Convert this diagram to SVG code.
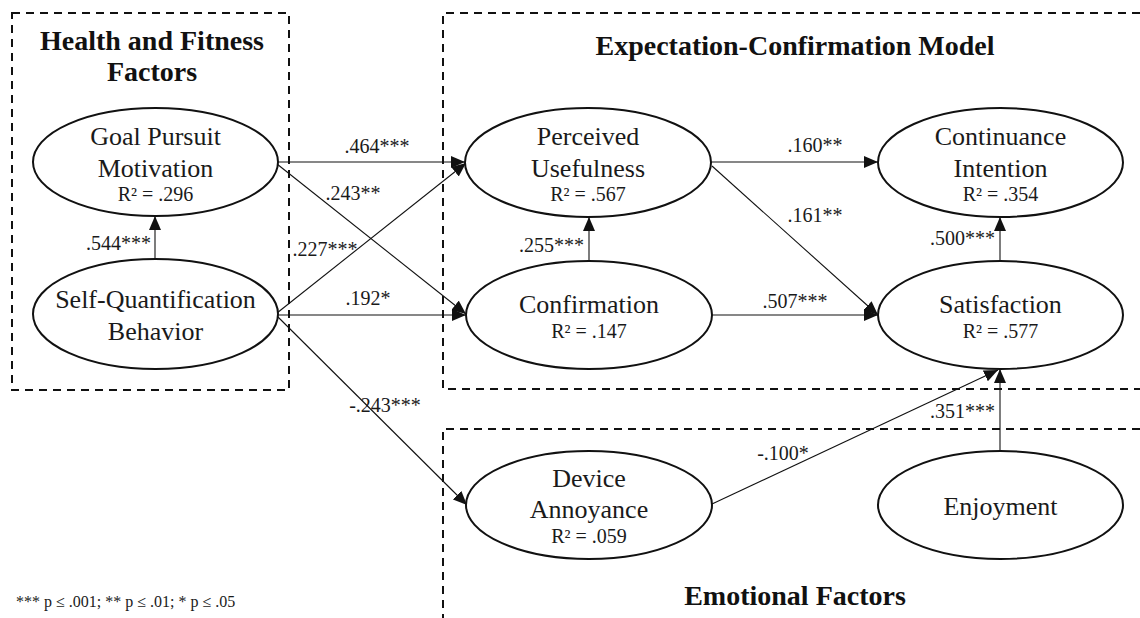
<svg xmlns="http://www.w3.org/2000/svg" width="1140" height="618" viewBox="0 0 1140 618">
<defs>
<style>
text{font-family:"Liberation Serif","Times New Roman",serif;fill:#1a1a1a}
.title{font-size:28px;font-weight:bold;text-anchor:middle;fill:#111}
.nm{font-size:26px;text-anchor:middle}
.r2{font-size:20px;text-anchor:middle}
.lbl{font-size:20px}
.mid{text-anchor:middle}
.end{text-anchor:end}
.box{fill:none;stroke:#111;stroke-width:2;stroke-dasharray:8 6}
ellipse{fill:#fff;stroke:#111;stroke-width:2}
.edge{fill:none;stroke:#111;stroke-width:1.1}
.note{font-size:16px}
</style>
<marker id="ah" markerUnits="userSpaceOnUse" markerWidth="15" markerHeight="13" refX="14" refY="6" orient="auto">
<path d="M0,0 L14,6 L0,12 z" fill="#111"/>
</marker>
</defs>
<rect width="1140" height="618" fill="#fff"/>

<g id="groups">
<rect class="box" x="12" y="13" width="277" height="377"/>
<path class="box" d="M1140,13 H443 V389 H1140"/>
<path class="box" d="M1140,429 H443 V618"/>
<text class="title" x="152" y="50">Health and Fitness</text>
<text class="title" x="152" y="81">Factors</text>
<text class="title" x="795" y="55">Expectation-Confirmation Model</text>
<text class="title" x="795" y="605">Emotional Factors</text>
</g>

<g id="connectors">
<line class="edge" x1="278" y1="162" x2="465" y2="162" marker-end="url(#ah)"/>
<line class="edge" x1="277" y1="164" x2="466" y2="314" marker-end="url(#ah)"/>
<line class="edge" x1="277" y1="313" x2="466" y2="163" marker-end="url(#ah)"/>
<line class="edge" x1="278" y1="315" x2="466" y2="315" marker-end="url(#ah)"/>
<line class="edge" x1="277" y1="316" x2="467" y2="505" marker-end="url(#ah)"/>
<line class="edge" x1="155" y1="258" x2="155" y2="216" marker-end="url(#ah)"/>
<line class="edge" x1="711" y1="162" x2="878" y2="162" marker-end="url(#ah)"/>
<line class="edge" x1="712" y1="166" x2="878" y2="315" marker-end="url(#ah)"/>
<line class="edge" x1="712" y1="315" x2="878" y2="315" marker-end="url(#ah)"/>
<line class="edge" x1="589" y1="261" x2="589" y2="217" marker-end="url(#ah)"/>
<line class="edge" x1="1000" y1="261" x2="1000" y2="217" marker-end="url(#ah)"/>
<line class="edge" x1="712" y1="504" x2="998" y2="370" marker-end="url(#ah)"/>
<line class="edge" x1="1000" y1="451" x2="1000" y2="369" marker-end="url(#ah)"/>
<text class="lbl mid" x="377" y="153">.464***</text>
<text class="lbl mid" x="353" y="200">.243**</text>
<text class="lbl mid" x="325" y="256">.227***</text>
<text class="lbl mid" x="368" y="305">.192*</text>
<text class="lbl mid" x="385" y="412">-.243***</text>
<text class="lbl end" x="151" y="250">.544***</text>
<text class="lbl mid" x="815" y="152">.160**</text>
<text class="lbl mid" x="815" y="222">.161**</text>
<text class="lbl mid" x="795" y="308">.507***</text>
<text class="lbl end" x="584" y="252">.255***</text>
<text class="lbl end" x="995" y="245">.500***</text>
<text class="lbl mid" x="783" y="460">-.100*</text>
<text class="lbl end" x="995" y="418">.351***</text>
</g>

<g id="goal">
<ellipse cx="155.5" cy="162" rx="122.5" ry="54"/>
<text class="nm" x="155.5" y="145">Goal Pursuit</text>
<text class="nm" x="155.5" y="177">Motivation</text>
<text class="r2" x="155.5" y="201">R² = .296</text>
</g>
<g id="selfq">
<ellipse cx="155.5" cy="314" rx="122.5" ry="55"/>
<text class="nm" x="155.5" y="308">Self-Quantification</text>
<text class="nm" x="155.5" y="340">Behavior</text>
</g>
<g id="pu">
<ellipse cx="588" cy="162.5" rx="123" ry="54.5"/>
<text class="nm" x="588" y="145">Perceived</text>
<text class="nm" x="588" y="177">Usefulness</text>
<text class="r2" x="588" y="201">R² = .567</text>
</g>
<g id="conf">
<ellipse cx="589" cy="315" rx="123" ry="54"/>
<text class="nm" x="589" y="313">Confirmation</text>
<text class="r2" x="589" y="338">R² = .147</text>
</g>
<g id="ci">
<ellipse cx="1000.5" cy="162.5" rx="122.5" ry="54.5"/>
<text class="nm" x="1000.5" y="145">Continuance</text>
<text class="nm" x="1000.5" y="177">Intention</text>
<text class="r2" x="1000.5" y="201">R² = .354</text>
</g>
<g id="sat">
<ellipse cx="1000.5" cy="315" rx="122.5" ry="54"/>
<text class="nm" x="1000.5" y="313">Satisfaction</text>
<text class="r2" x="1000.5" y="338">R² = .577</text>
</g>
<g id="da">
<ellipse cx="589" cy="505" rx="123" ry="54"/>
<text class="nm" x="589" y="487">Device</text>
<text class="nm" x="589" y="518">Annoyance</text>
<text class="r2" x="589" y="543">R² = .059</text>
</g>
<g id="enj">
<ellipse cx="1000.5" cy="505" rx="122.5" ry="54"/>
<text class="nm" x="1000.5" y="515">Enjoyment</text>
</g>

<text class="note" x="16" y="607">*** p ≤ .001; ** p ≤ .01; * p ≤ .05</text>
</svg>
